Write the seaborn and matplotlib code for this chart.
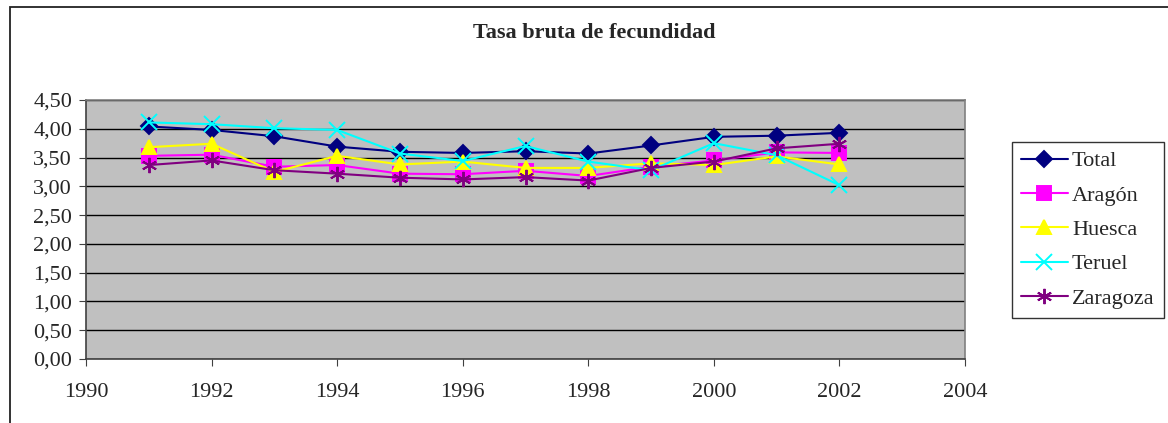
import pandas as pd
import seaborn as sns
import matplotlib.pyplot as plt
from matplotlib.patches import Rectangle
from matplotlib.ticker import FuncFormatter

years = [1991, 1992, 1993, 1994, 1995, 1996, 1997, 1998, 1999, 2000, 2001, 2002]
total = [4.04, 3.98, 3.87, 3.69, 3.60, 3.58, 3.61, 3.57, 3.71, 3.86, 3.88, 3.93]
aragon = [3.53, 3.55, 3.34, 3.37, 3.22, 3.21, 3.27, 3.18, 3.34, 3.45, 3.59, 3.58]
huesca = [3.68, 3.74, 3.25, 3.53, 3.38, 3.43, 3.32, 3.32, 3.40, 3.37, 3.52, 3.38]
teruel = [4.11, 4.08, 4.01, 3.98, 3.57, 3.44, 3.70, 3.43, 3.28, 3.75, 3.54, 3.02]
zaragoza = [3.37, 3.45, 3.28, 3.22, 3.15, 3.12, 3.16, 3.10, 3.32, 3.43, 3.66, 3.74]

series = ['Total', 'Aragón', 'Huesca', 'Teruel', 'Zaragoza']
colors = ['#000080', '#FF00FF', '#FFFF00', '#00FFFF', '#800080']
markers = ['D', 's', '^', 'x', (6, 2, 0)]
sizes = [8, 10, 10, 11, 11]

df = pd.DataFrame({'Año': years, 'Total': total, 'Aragón': aragon,
                   'Huesca': huesca, 'Teruel': teruel, 'Zaragoza': zaragoza})
long = df.melt(id_vars='Año', var_name='serie', value_name='tasa')

sns.set_style('white')
plt.rcParams['font.family'] = ['Liberation Serif', 'DejaVu Serif']

fig = plt.figure(figsize=(11.68, 4.23), dpi=100)
ax = fig.add_axes([86 / 1168, 1 - 359 / 423, (965 - 86) / 1168, (359 - 100) / 423])
ax.set_facecolor('#C0C0C0')

# outer chart border (left and top edges only visible)
fig.patches.append(Rectangle((10 / 1168, -0.1), 1.2, 1 - 7 / 423 + 0.1,
                             transform=fig.transFigure, fill=False,
                             edgecolor='#222222', linewidth=1.3, zorder=0))

for name, c, m, s in zip(series, colors, markers, sizes):
    d = long[long['serie'] == name]
    sns.lineplot(data=d, x='Año', y='tasa', ax=ax, color=c, marker=m,
                 markersize=s, markeredgecolor=c, markeredgewidth=1.4,
                 linewidth=1.5, label=name)

ax.set_xlim(1990, 2004)
ax.set_ylim(0, 4.5)
ax.set_xticks(range(1990, 2005, 2))
ax.set_yticks([i * 0.5 for i in range(10)])
ax.yaxis.set_major_formatter(FuncFormatter(lambda v, p: f'{v:.2f}'.replace('.', ',')))
ax.grid(axis='y', color='black', linewidth=1)
ax.set_axisbelow(True)
ax.set_xlabel('')
ax.set_ylabel('')
for sp in ax.spines.values():
    sp.set_color('#808080')
    sp.set_linewidth(1.2)
ax.spines['left'].set_color('#404040')
ax.spines['bottom'].set_color('#404040')
ax.tick_params(axis='both', labelsize=16, length=5, direction='out',
               color='#404040', left=True, bottom=True)
ax.tick_params(axis='y', pad=5)
ax.tick_params(axis='x', pad=12)

fig.text(594 / 1168, 1 - 33 / 423, 'Tasa bruta de fecundidad', ha='center',
         va='center', fontsize=16, fontweight='bold')

leg = ax.legend(loc='upper left', bbox_to_anchor=(1012 / 1168, 1 - 142 / 423),
                bbox_transform=fig.transFigure, fontsize=16, frameon=True,
                fancybox=False, edgecolor='black', handlelength=2.1,
                labelspacing=0.62, borderpad=0.4, handletextpad=0.2,
                borderaxespad=0)
leg.get_frame().set_linewidth(1)

fig.savefig('out.png', dpi=100)
